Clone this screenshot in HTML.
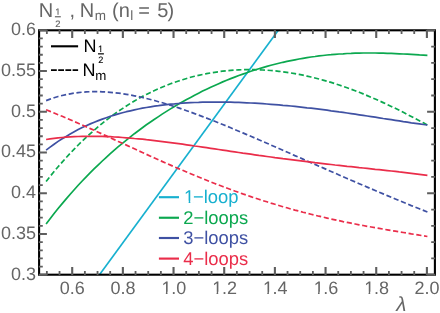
<!DOCTYPE html>
<html><head><meta charset="utf-8"><title>plot</title>
<style>
html,body{margin:0;padding:0;background:#fff;}
body{width:440px;height:313px;overflow:hidden;}
svg{display:block;will-change:transform;}
text{font-family:"Liberation Sans",sans-serif;text-rendering:geometricPrecision;}
</style></head><body>
<svg width="440" height="313" viewBox="0 0 440 313">
<rect x="0" y="0" width="440" height="313" fill="#fff"/>
<defs><clipPath id="cp"><rect x="39.1" y="30.3" width="395.8" height="244.4"/></clipPath></defs>

<g fill="none" stroke-width="1.7" stroke-linejoin="round" clip-path="url(#cp)">
<path d="M99.5,274.7 L278.3,30.3" stroke="#17B0CF"/>
<path d="M46.1,224.0 L50.1,218.7 L54.1,213.5 L58.1,208.5 L62.2,203.6 L66.2,198.9 L70.2,194.2 L74.2,189.7 L78.2,185.3 L82.2,181.0 L86.2,176.8 L90.3,172.7 L94.3,168.7 L98.3,164.8 L102.3,161.0 L106.3,157.3 L110.3,153.7 L114.3,150.1 L118.3,146.7 L122.4,143.3 L126.4,140.1 L130.4,136.9 L134.4,133.7 L138.4,130.7 L142.4,127.7 L146.4,124.8 L150.5,122.0 L154.5,119.2 L158.5,116.6 L162.5,113.9 L166.5,111.4 L170.5,108.9 L174.5,106.5 L178.6,104.1 L182.6,101.8 L186.6,99.5 L190.6,97.4 L194.6,95.2 L198.6,93.2 L202.6,91.1 L206.6,89.2 L210.7,87.3 L214.7,85.5 L218.7,83.7 L222.7,81.9 L226.7,80.3 L230.7,78.6 L234.7,77.1 L238.8,75.5 L242.8,74.1 L246.8,72.7 L250.8,71.3 L254.8,70.0 L258.8,68.8 L262.8,67.6 L266.9,66.4 L270.9,65.3 L274.9,64.3 L278.9,63.3 L282.9,62.3 L286.9,61.4 L290.9,60.6 L294.9,59.8 L299.0,59.0 L303.0,58.3 L307.0,57.6 L311.0,57.0 L315.0,56.5 L319.0,55.9 L323.0,55.5 L327.1,55.0 L331.1,54.7 L335.1,54.3 L339.1,54.0 L343.1,53.8 L347.1,53.5 L351.1,53.4 L355.2,53.2 L359.2,53.1 L363.2,53.0 L367.2,53.0 L371.2,53.0 L375.2,53.0 L379.2,53.1 L383.2,53.2 L387.3,53.3 L391.3,53.4 L395.3,53.6 L399.3,53.8 L403.3,54.0 L407.3,54.2 L411.3,54.4 L415.4,54.6 L419.4,54.9 L423.4,55.1 L427.4,55.4" stroke="#0BA84F"/>
<path d="M46.1,181.5 L50.1,176.4 L54.1,171.5 L58.1,166.7 L62.2,162.1 L66.2,157.6 L70.2,153.3 L74.2,149.1 L78.2,145.0 L82.2,141.1 L86.2,137.3 L90.3,133.6 L94.3,130.1 L98.3,126.6 L102.3,123.3 L106.3,120.2 L110.3,117.1 L114.3,114.1 L118.3,111.3 L122.4,108.6 L126.4,106.0 L130.4,103.4 L134.4,101.0 L138.4,98.7 L142.4,96.5 L146.4,94.4 L150.5,92.4 L154.5,90.5 L158.5,88.7 L162.5,87.0 L166.5,85.3 L170.5,83.8 L174.5,82.3 L178.6,81.0 L182.6,79.7 L186.6,78.5 L190.6,77.3 L194.6,76.3 L198.6,75.3 L202.6,74.5 L206.6,73.7 L210.7,72.9 L214.7,72.3 L218.7,71.7 L222.7,71.2 L226.7,70.7 L230.7,70.4 L234.7,70.1 L238.8,69.9 L242.8,69.7 L246.8,69.6 L250.8,69.6 L254.8,69.7 L258.8,69.8 L262.8,70.0 L266.9,70.2 L270.9,70.5 L274.9,70.9 L278.9,71.3 L282.9,71.8 L286.9,72.4 L290.9,73.0 L294.9,73.7 L299.0,74.4 L303.0,75.2 L307.0,76.1 L311.0,77.0 L315.0,78.0 L319.0,79.0 L323.0,80.1 L327.1,81.2 L331.1,82.4 L335.1,83.7 L339.1,85.0 L343.1,86.4 L347.1,87.8 L351.1,89.2 L355.2,90.7 L359.2,92.3 L363.2,93.9 L367.2,95.6 L371.2,97.3 L375.2,99.0 L379.2,100.8 L383.2,102.6 L387.3,104.5 L391.3,106.4 L395.3,108.3 L399.3,110.3 L403.3,112.3 L407.3,114.4 L411.3,116.5 L415.4,118.6 L419.4,120.7 L423.4,122.8 L427.4,125.0" stroke="#0BA84F" stroke-dasharray="5.2 2.65"/>
<path d="M46.1,150.1 L50.1,147.1 L54.1,144.2 L58.1,141.4 L62.2,138.8 L66.2,136.4 L70.2,134.0 L74.2,131.8 L78.2,129.6 L82.2,127.6 L86.2,125.7 L90.3,123.9 L94.3,122.2 L98.3,120.6 L102.3,119.1 L106.3,117.7 L110.3,116.3 L114.3,115.1 L118.3,113.9 L122.4,112.8 L126.4,111.7 L130.4,110.8 L134.4,109.9 L138.4,109.0 L142.4,108.2 L146.4,107.5 L150.5,106.8 L154.5,106.2 L158.5,105.7 L162.5,105.1 L166.5,104.7 L170.5,104.2 L174.5,103.9 L178.6,103.5 L182.6,103.2 L186.6,102.9 L190.6,102.7 L194.6,102.5 L198.6,102.4 L202.6,102.2 L206.6,102.2 L210.7,102.1 L214.7,102.1 L218.7,102.1 L222.7,102.1 L226.7,102.1 L230.7,102.2 L234.7,102.3 L238.8,102.4 L242.8,102.6 L246.8,102.8 L250.8,103.0 L254.8,103.2 L258.8,103.4 L262.8,103.7 L266.9,104.0 L270.9,104.3 L274.9,104.6 L278.9,104.9 L282.9,105.3 L286.9,105.6 L290.9,106.0 L294.9,106.4 L299.0,106.9 L303.0,107.3 L307.0,107.8 L311.0,108.2 L315.0,108.7 L319.0,109.2 L323.0,109.7 L327.1,110.2 L331.1,110.8 L335.1,111.3 L339.1,111.9 L343.1,112.4 L347.1,113.0 L351.1,113.6 L355.2,114.2 L359.2,114.8 L363.2,115.4 L367.2,116.0 L371.2,116.6 L375.2,117.2 L379.2,117.8 L383.2,118.5 L387.3,119.1 L391.3,119.7 L395.3,120.3 L399.3,120.9 L403.3,121.6 L407.3,122.2 L411.3,122.8 L415.4,123.3 L419.4,123.9 L423.4,124.5 L427.4,125.0" stroke="#3F51A3"/>
<path d="M46.1,100.6 L50.1,99.1 L54.1,97.7 L58.1,96.5 L62.2,95.5 L66.2,94.6 L70.2,93.8 L74.2,93.1 L78.2,92.6 L82.2,92.2 L86.2,91.9 L90.3,91.7 L94.3,91.6 L98.3,91.6 L102.3,91.8 L106.3,92.0 L110.3,92.3 L114.3,92.7 L118.3,93.1 L122.4,93.7 L126.4,94.3 L130.4,95.0 L134.4,95.8 L138.4,96.6 L142.4,97.5 L146.4,98.5 L150.5,99.5 L154.5,100.5 L158.5,101.7 L162.5,102.8 L166.5,104.0 L170.5,105.3 L174.5,106.6 L178.6,107.9 L182.6,109.3 L186.6,110.7 L190.6,112.1 L194.6,113.6 L198.6,115.1 L202.6,116.6 L206.6,118.1 L210.7,119.7 L214.7,121.3 L218.7,122.9 L222.7,124.5 L226.7,126.1 L230.7,127.8 L234.7,129.5 L238.8,131.2 L242.8,132.9 L246.8,134.6 L250.8,136.3 L254.8,138.0 L258.8,139.7 L262.8,141.5 L266.9,143.2 L270.9,145.0 L274.9,146.7 L278.9,148.5 L282.9,150.3 L286.9,152.0 L290.9,153.8 L294.9,155.6 L299.0,157.3 L303.0,159.1 L307.0,160.9 L311.0,162.7 L315.0,164.4 L319.0,166.2 L323.0,167.9 L327.1,169.7 L331.1,171.5 L335.1,173.2 L339.1,175.0 L343.1,176.7 L347.1,178.5 L351.1,180.2 L355.2,181.9 L359.2,183.7 L363.2,185.4 L367.2,187.1 L371.2,188.8 L375.2,190.5 L379.2,192.2 L383.2,193.9 L387.3,195.6 L391.3,197.3 L395.3,199.0 L399.3,200.6 L403.3,202.3 L407.3,203.9 L411.3,205.6 L415.4,207.2 L419.4,208.8 L423.4,210.4 L427.4,212.0" stroke="#3F51A3" stroke-dasharray="5.2 2.65"/>
<path d="M46.1,139.5 L50.1,138.9 L54.1,138.4 L58.1,137.9 L62.2,137.5 L66.2,137.2 L70.2,136.9 L74.2,136.7 L78.2,136.5 L82.2,136.4 L86.2,136.3 L90.3,136.3 L94.3,136.3 L98.3,136.3 L102.3,136.4 L106.3,136.6 L110.3,136.7 L114.3,137.0 L118.3,137.2 L122.4,137.5 L126.4,137.8 L130.4,138.1 L134.4,138.5 L138.4,138.8 L142.4,139.2 L146.4,139.7 L150.5,140.1 L154.5,140.6 L158.5,141.1 L162.5,141.6 L166.5,142.1 L170.5,142.6 L174.5,143.1 L178.6,143.7 L182.6,144.2 L186.6,144.8 L190.6,145.4 L194.6,146.0 L198.6,146.5 L202.6,147.1 L206.6,147.7 L210.7,148.3 L214.7,148.9 L218.7,149.5 L222.7,150.1 L226.7,150.7 L230.7,151.3 L234.7,151.9 L238.8,152.5 L242.8,153.1 L246.8,153.6 L250.8,154.2 L254.8,154.8 L258.8,155.4 L262.8,155.9 L266.9,156.5 L270.9,157.0 L274.9,157.6 L278.9,158.1 L282.9,158.7 L286.9,159.2 L290.9,159.7 L294.9,160.2 L299.0,160.7 L303.0,161.2 L307.0,161.7 L311.0,162.2 L315.0,162.7 L319.0,163.1 L323.0,163.6 L327.1,164.1 L331.1,164.5 L335.1,165.0 L339.1,165.4 L343.1,165.8 L347.1,166.3 L351.1,166.7 L355.2,167.1 L359.2,167.6 L363.2,168.0 L367.2,168.4 L371.2,168.8 L375.2,169.3 L379.2,169.7 L383.2,170.1 L387.3,170.6 L391.3,171.0 L395.3,171.4 L399.3,171.9 L403.3,172.3 L407.3,172.8 L411.3,173.3 L415.4,173.8 L419.4,174.3 L423.4,174.8 L427.4,175.3" stroke="#EA2D4A"/>
<path d="M46.1,109.8 L50.1,111.4 L54.1,113.0 L58.1,114.7 L62.2,116.3 L66.2,118.0 L70.2,119.8 L74.2,121.5 L78.2,123.3 L82.2,125.0 L86.2,126.8 L90.3,128.6 L94.3,130.4 L98.3,132.2 L102.3,134.1 L106.3,135.9 L110.3,137.8 L114.3,139.6 L118.3,141.5 L122.4,143.3 L126.4,145.1 L130.4,147.0 L134.4,148.8 L138.4,150.7 L142.4,152.5 L146.4,154.3 L150.5,156.2 L154.5,158.0 L158.5,159.8 L162.5,161.6 L166.5,163.3 L170.5,165.1 L174.5,166.9 L178.6,168.6 L182.6,170.3 L186.6,172.0 L190.6,173.7 L194.6,175.4 L198.6,177.0 L202.6,178.7 L206.6,180.3 L210.7,181.9 L214.7,183.5 L218.7,185.0 L222.7,186.5 L226.7,188.0 L230.7,189.5 L234.7,191.0 L238.8,192.4 L242.8,193.9 L246.8,195.2 L250.8,196.6 L254.8,198.0 L258.8,199.3 L262.8,200.6 L266.9,201.8 L270.9,203.1 L274.9,204.3 L278.9,205.5 L282.9,206.7 L286.9,207.8 L290.9,209.0 L294.9,210.1 L299.0,211.1 L303.0,212.2 L307.0,213.2 L311.0,214.2 L315.0,215.2 L319.0,216.2 L323.0,217.1 L327.1,218.1 L331.1,219.0 L335.1,219.8 L339.1,220.7 L343.1,221.6 L347.1,222.4 L351.1,223.2 L355.2,224.0 L359.2,224.8 L363.2,225.5 L367.2,226.3 L371.2,227.0 L375.2,227.7 L379.2,228.4 L383.2,229.1 L387.3,229.8 L391.3,230.5 L395.3,231.2 L399.3,231.9 L403.3,232.5 L407.3,233.2 L411.3,233.9 L415.4,234.5 L419.4,235.2 L423.4,235.8 L427.4,236.5" stroke="#EA2D4A" stroke-dasharray="5.2 2.65"/>
</g>
<rect x="39.1" y="30.3" width="395.8" height="244.4" fill="none" stroke="#000" stroke-width="2.1"/>
<path d="M46.86,275.1v-4.0M46.86,30.0v4.0M59.53,275.1v-4.0M59.53,30.0v4.0M84.87,275.1v-4.0M84.87,30.0v4.0M97.54,275.1v-4.0M97.54,30.0v4.0M110.20,275.1v-4.0M110.20,30.0v4.0M135.54,275.1v-4.0M135.54,30.0v4.0M148.21,275.1v-4.0M148.21,30.0v4.0M160.88,275.1v-4.0M160.88,30.0v4.0M186.21,275.1v-4.0M186.21,30.0v4.0M198.88,275.1v-4.0M198.88,30.0v4.0M211.55,275.1v-4.0M211.55,30.0v4.0M236.88,275.1v-4.0M236.88,30.0v4.0M249.55,275.1v-4.0M249.55,30.0v4.0M262.22,275.1v-4.0M262.22,30.0v4.0M287.55,275.1v-4.0M287.55,30.0v4.0M300.22,275.1v-4.0M300.22,30.0v4.0M312.89,275.1v-4.0M312.89,30.0v4.0M338.22,275.1v-4.0M338.22,30.0v4.0M350.89,275.1v-4.0M350.89,30.0v4.0M363.56,275.1v-4.0M363.56,30.0v4.0M388.90,275.1v-4.0M388.90,30.0v4.0M401.56,275.1v-4.0M401.56,30.0v4.0M414.23,275.1v-4.0M414.23,30.0v4.0M38.8,266.60h4.0M38.8,258.45h4.0M38.8,250.31h4.0M38.8,242.16h4.0M38.8,225.86h4.0M38.8,217.71h4.0M38.8,209.56h4.0M38.8,201.41h4.0M38.8,185.12h4.0M38.8,176.97h4.0M38.8,168.82h4.0M38.8,160.67h4.0M38.8,144.38h4.0M38.8,136.23h4.0M38.8,128.08h4.0M38.8,119.93h4.0M38.8,103.63h4.0M38.8,95.49h4.0M38.8,87.34h4.0M38.8,79.19h4.0M38.8,62.89h4.0M38.8,54.75h4.0M38.8,46.60h4.0M38.8,38.45h4.0M435.2,258.45h-4.0M435.2,242.16h-4.0M435.2,225.86h-4.0M435.2,209.56h-4.0M435.2,176.97h-4.0M435.2,160.67h-4.0M435.2,144.38h-4.0M435.2,128.08h-4.0M435.2,95.49h-4.0M435.2,79.19h-4.0M435.2,62.89h-4.0M435.2,46.60h-4.0" stroke="#5e5e5e" stroke-width="1.8" fill="none"/>
<path d="M72.20,275.1v-8.1M72.20,30.0v8.1M122.87,275.1v-8.1M122.87,30.0v8.1M173.54,275.1v-8.1M173.54,30.0v8.1M224.21,275.1v-8.1M224.21,30.0v8.1M274.89,275.1v-8.1M274.89,30.0v8.1M325.56,275.1v-8.1M325.56,30.0v8.1M376.23,275.1v-8.1M376.23,30.0v8.1M426.90,275.1v-8.1M426.90,30.0v8.1M38.8,274.75h8.1M38.8,234.01h8.1M38.8,193.27h8.1M38.8,152.52h8.1M38.8,111.78h8.1M38.8,71.04h8.1M38.8,30.30h8.1M435.2,274.75h-8.1M435.2,193.27h-8.1M435.2,111.78h-8.1M435.2,30.30h-8.1" stroke="#5e5e5e" stroke-width="2.1" fill="none"/>
<g fill="#666" font-size="18">
<text x="36" y="35.2" text-anchor="end">0.6</text>
<text x="36" y="75.9" text-anchor="end">0.55</text>
<text x="36" y="116.7" text-anchor="end">0.5</text>
<text x="36" y="157.4" text-anchor="end">0.45</text>
<text x="36" y="198.2" text-anchor="end">0.4</text>
<text x="36" y="238.9" text-anchor="end">0.35</text>
<text x="36" y="279.6" text-anchor="end">0.3</text>
<text x="72.2" y="294.1" text-anchor="middle">0.6</text>
<text x="122.9" y="294.1" text-anchor="middle">0.8</text>
<text x="173.5" y="294.1" text-anchor="middle"><tspan dx="0.4">1</tspan><tspan dx="-0.4">.0</tspan></text>
<text x="224.2" y="294.1" text-anchor="middle"><tspan dx="0.4">1</tspan><tspan dx="-0.4">.2</tspan></text>
<text x="274.9" y="294.1" text-anchor="middle"><tspan dx="0.4">1</tspan><tspan dx="-0.4">.4</tspan></text>
<text x="325.6" y="294.1" text-anchor="middle"><tspan dx="0.4">1</tspan><tspan dx="-0.4">.6</tspan></text>
<text x="376.2" y="294.1" text-anchor="middle"><tspan dx="0.4">1</tspan><tspan dx="-0.4">.8</tspan></text>
<text x="426.9" y="294.1" text-anchor="middle">2.0</text>
<text x="396.2" y="311.2" font-size="20.5" font-style="italic">λ</text>
<text x="38.7" y="16.5" font-size="20">N</text>
<text x="57.9" y="14.8" font-size="9.4" text-anchor="middle" stroke="#666" stroke-width="0.15">1</text>
<text x="57.9" y="26.7" font-size="9.4" text-anchor="middle" stroke="#666" stroke-width="0.15">2</text>
<rect x="54.9" y="16.15" width="5.9" height="1.2" fill="#666"/>
<text x="69.6" y="16.5" font-size="20">,</text>
<text x="79.8" y="16.5" font-size="20">N</text>
<text x="94.8" y="19.6" font-size="13.5">m</text>
<text x="112" y="16.5" font-size="20">(n</text>
<text x="130.3" y="19.6" font-size="13.5">l</text>
<text x="138.3" y="16.5" font-size="20">=</text>
<text x="157.2" y="16.5" font-size="20">5</text>
<text x="167.4" y="16.5" font-size="20">)</text>
</g>
<g fill="#000">
<path d="M51,46.3H78.1" stroke="#000" stroke-width="2.1" fill="none"/>
<path d="M51,70.15H78.1" stroke="#000" stroke-width="1.9" stroke-dasharray="5.8 1.4" fill="none"/>
<text x="83.4" y="52.3" font-size="18">N</text>
<text x="100.6" y="51.7" font-size="9.2" text-anchor="middle" stroke="#000" stroke-width="0.1">1</text>
<text x="100.8" y="62.7" font-size="9.2" text-anchor="middle" stroke="#000" stroke-width="0.1">2</text>
<rect x="98" y="53.25" width="5.9" height="1.2" fill="#000"/>
<text x="82.5" y="76.3" font-size="18">N</text>
<text x="95.2" y="79.5" font-size="13.3">m</text>
</g>
<path d="M158.9,197.2H179" stroke="#17B0CF" stroke-width="2.15" fill="none"/>
<text x="184.0" y="203.1" font-size="18.4" fill="#17B0CF"><tspan>1</tspan><tspan dx="-1.2">−loop</tspan></text>
<path d="M158.9,217.75H179" stroke="#0BA84F" stroke-width="2.15" fill="none"/>
<text x="183.2" y="223.7" font-size="18.4" fill="#0BA84F">2−loops</text>
<path d="M158.9,238.0H179" stroke="#3F51A3" stroke-width="2.15" fill="none"/>
<text x="183.2" y="244.2" font-size="18.4" fill="#3F51A3">3−loops</text>
<path d="M158.9,258.6H179" stroke="#EA2D4A" stroke-width="2.15" fill="none"/>
<text x="183.2" y="264.8" font-size="18.4" fill="#EA2D4A">4−loops</text>
<path d="M161.27,291.75H165.87V294.7H161.27ZM167.50,291.75H171.80V294.7H167.50ZM211.97,291.75H216.57V294.7H211.97ZM218.20,291.75H222.50V294.7H218.20ZM262.67,291.75H267.27V294.7H262.67ZM268.90,291.75H273.20V294.7H268.90ZM313.37,291.75H317.97V294.7H313.37ZM319.60,291.75H323.90V294.7H319.60ZM363.97,291.75H368.57V294.7H363.97ZM370.20,291.75H374.50V294.7H370.20ZM183.86,200.85H188.66V203.70H183.86ZM190.33,200.85H193.93V203.70H190.33ZM97.3,50.75H100.25V52.1H97.3ZM101.3,50.75H104V52.1H101.3ZM54.3,13.95H57.55V15.2H54.3ZM58.5,13.95H61V15.2H58.5Z" fill="#fff"/>
</svg></body></html>
